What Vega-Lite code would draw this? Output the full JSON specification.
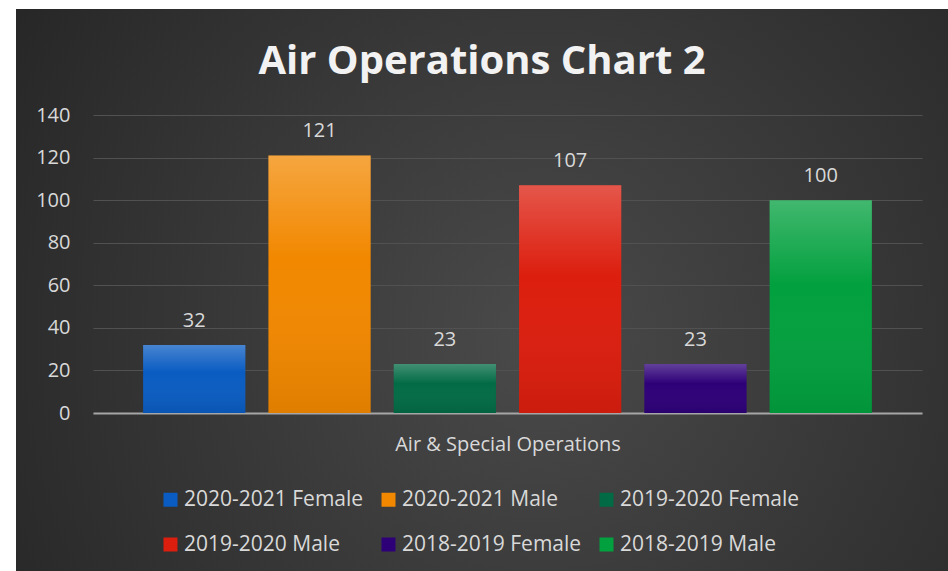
{
  "$schema": "https://vega.github.io/schema/vega-lite/v6.json",
  "autosize": "none",
  "width": 932,
  "height": 562,
  "padding": {"left": 16, "top": 9, "right": 0, "bottom": 0},
  "background": "white",
  "view": {
    "fill": {
      "gradient": "radial",
      "x1": 0.56, "y1": 0.55, "r1": 0,
      "x2": 0.56, "y2": 0.55, "r2": 0.75,
      "stops": [
        {"offset": 0, "color": "#4a4a4a"},
        {"offset": 1, "color": "#222222"}
      ]
    },
    "stroke": null
  },
  "title": {
    "text": "Air Operations Chart 2",
    "font": "Open Sans",
    "fontSize": 40,
    "fontWeight": "bold",
    "color": "#f2f2f2",
    "anchor": "middle",
    "frame": "group",
    "offset": -73
  },
  "config": {
    "font": "Open Sans",
    "axis": {"labelFont": "Open Sans", "titleFont": "Open Sans"},
    "legend": {"labelFont": "Open Sans"}
  },
  "data": {
    "values": [
      {"series": "2020-2021 Female", "value": 32},
      {"series": "2020-2021 Male", "value": 121},
      {"series": "2019-2020 Female", "value": 23},
      {"series": "2019-2020 Male", "value": 107},
      {"series": "2018-2019 Female", "value": 23},
      {"series": "2018-2019 Male", "value": 100}
    ]
  },
  "encoding": {
    "x": {
      "field": "series",
      "type": "nominal",
      "sort": null,
      "scale": {"range": [77, 906], "paddingInner": 0.184, "paddingOuter": 0.4},
      "axis": {
        "orient": "bottom",
        "offset": -158,
        "labels": false,
        "ticks": false,
        "tickSize": 0,
        "grid": false,
        "domain": true,
        "domainColor": "#a6a6a6",
        "domainWidth": 2,
        "title": "Air & Special Operations",
        "titleColor": "#d9d9d9",
        "titleFontSize": 20,
        "titleFontWeight": "normal",
        "titlePadding": 21
      }
    },
    "y": {
      "field": "value",
      "type": "quantitative",
      "scale": {"domain": [0, 140], "range": [404, 106], "nice": false, "zero": true},
      "axis": {
        "orient": "left",
        "offset": -77,
        "values": [0, 20, 40, 60, 80, 100, 120, 140],
        "domain": false,
        "ticks": false,
        "tickSize": 0,
        "labelPadding": 23,
        "labelColor": "#d9d9d9",
        "labelFontSize": 20,
        "grid": true,
        "gridColor": "#515151",
        "gridWidth": 1,
        "title": null
      }
    }
  },
  "layer": [
    {
      "mark": {"type": "bar"},
      "encoding": {
        "color": {
          "field": "series",
          "type": "nominal",
          "sort": null,
          "scale": {
            "domain": ["2020-2021 Female", "2020-2021 Male", "2019-2020 Female", "2019-2020 Male", "2018-2019 Female", "2018-2019 Male"],
            "range": ["#0a5cc2", "#f28800", "#026b45", "#dc1e0e", "#2e0078", "#02a03e"]
          },
          "legend": {
            "orient": "none",
            "legendX": 144,
            "legendY": 480,
            "direction": "horizontal",
            "columns": 3,
            "title": null,
            "symbolType": "square",
            "symbolSize": 196,
            "symbolStrokeWidth": 0,
            "symbolOpacity": 1,
            "labelFontSize": 21,
            "labelColor": "#d9d9d9",
            "labelLimit": 300,
            "labelOffset": 3,
            "columnPadding": 14,
            "rowPadding": 23,
            "padding": 0,
            "offset": 0
          }
        }
      }
    },
    {
      "mark": {
        "type": "bar",
        "fill": {
          "gradient": "linear",
          "x1": 0, "y1": 0, "x2": 0, "y2": 1,
          "stops": [
            {"offset": 0, "color": "rgba(255,255,255,0.25)"},
            {"offset": 0.4, "color": "rgba(255,255,255,0)"},
            {"offset": 1, "color": "rgba(0,0,0,0.08)"}
          ]
        }
      }
    },
    {
      "mark": {"type": "text", "baseline": "alphabetic", "dy": -18, "fontSize": 20, "color": "#d9d9d9", "font": "Open Sans"},
      "encoding": {"text": {"field": "value", "type": "quantitative"}}
    }
  ]
}
